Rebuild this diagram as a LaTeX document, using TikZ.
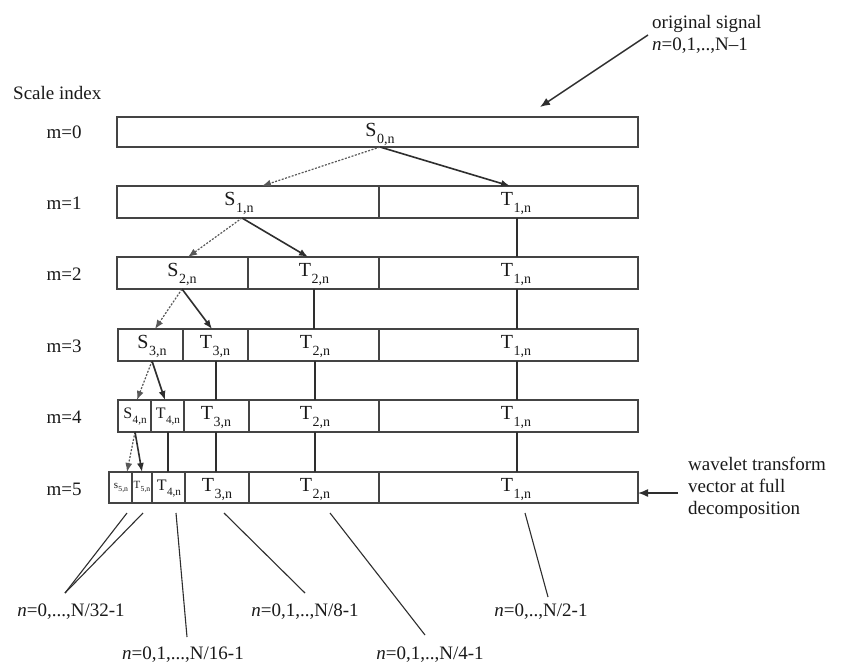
\documentclass[tikz,border=0pt]{standalone}
\usepackage{fontspec}
\setmainfont{Liberation Serif}
\usetikzlibrary{arrows.meta}
\definecolor{ink}{HTML}{1A1A1A}
\definecolor{linec}{HTML}{2E2E2E}
\definecolor{boxc}{HTML}{444444}
\newcommand{\lab}[2]{#1\kern0.5pt\raisebox{-7pt}{\fontsize{14}{14}\selectfont #2}}
\newcommand{\cellat}[5]{\node[cell,minimum width={(#3-#2)*1pt},minimum height={(#5-#4)*1pt}] (#1) at ({(#2+#3)/2},{(#4+#5)/2}) {};}
\begin{document}
\begin{tikzpicture}[x=1pt,y=-1pt,
  cell/.style={draw=boxc,line width=1.4pt,fill=white,inner sep=0pt,outer sep=0pt,rectangle},
  lbl/.style={anchor=base,inner sep=0pt,text=ink,font=\fontsize{20}{24}\selectfont},
  txt/.style={inner sep=0pt,text=ink,font=\fontsize{19}{22}\selectfont},
  rowlbl/.style={anchor=base,inner sep=0pt,text=ink,font=\fontsize{19}{22}\selectfont},
  solidarr/.style={draw=linec,line width=1.6pt,-{Latex[length=9pt,width=7pt]}},
  dotarr/.style={draw=linec!80,line width=1.2pt,dash pattern=on 2pt off 1.5pt,-{Latex[length=9pt,width=7pt]}},
  vline/.style={draw=linec,line width=1.5pt},
  leader/.style={draw=linec,line width=1.1pt},
  callout/.style={draw=linec,line width=1.4pt,-{Latex[length=10pt,width=8pt]}}
]
\useasboundingbox (0,0) rectangle (845,666);
\fill[white] (0,0) rectangle (845,666);

% ---- cells
\cellat{c00}{117}{638}{117}{147}
\cellat{c10}{117}{379}{186}{218}
\cellat{c11}{379}{638}{186}{218}
\cellat{c20}{117}{248}{257}{289}
\cellat{c21}{248}{379}{257}{289}
\cellat{c22}{379}{638}{257}{289}
\cellat{c30}{118}{183}{329}{361}
\cellat{c31}{183}{248}{329}{361}
\cellat{c32}{248}{379}{329}{361}
\cellat{c33}{379}{638}{329}{361}
\cellat{c40}{118}{151}{400}{432}
\cellat{c41}{151}{184}{400}{432}
\cellat{c42}{184}{249}{400}{432}
\cellat{c43}{249}{379}{400}{432}
\cellat{c44}{379}{638}{400}{432}
\cellat{c50}{109}{132}{472}{503}
\cellat{c51}{132}{152}{472}{503}
\cellat{c52}{152}{185}{472}{503}
\cellat{c53}{185}{249}{472}{503}
\cellat{c54}{249}{379}{472}{503}
\cellat{c55}{379}{638}{472}{503}

% ---- cell labels
\node[lbl] (l00) at (380,136) {\lab{S}{0,n}};
\node[lbl] (l10) at (239,205) {\lab{S}{1,n}};
\node[lbl] (l11) at (516,205) {\lab{T}{1,n}};
\node[lbl] (l20) at (182,276) {\lab{S}{2,n}};
\node[lbl] (l21) at (314,276) {\lab{T}{2,n}};
\node[lbl] (l22) at (516,276) {\lab{T}{1,n}};
\node[lbl] (l30) at (152,348) {\lab{S}{3,n}};
\node[lbl] (l31) at (215,348) {\lab{T}{3,n}};
\node[lbl] (l32) at (315,348) {\lab{T}{2,n}};
\node[lbl] (l33) at (516,348) {\lab{T}{1,n}};
\node[lbl,scale=0.8] (l40) at (135,418) {\lab{S}{4,n}};
\node[lbl,scale=0.8] (l41) at (168,418) {\lab{T}{4,n}};
\node[lbl] (l42) at (216,419) {\lab{T}{3,n}};
\node[lbl] (l43) at (315,419) {\lab{T}{2,n}};
\node[lbl] (l44) at (516,419) {\lab{T}{1,n}};
\node[lbl,scale=0.55] (l50) at (121,488) {\lab{s}{5,n}};
\node[lbl,scale=0.55] (l51) at (142,488) {\lab{T}{5,n}};
\node[lbl,scale=0.8] (l52) at (169,490) {\lab{T}{4,n}};
\node[lbl] (l53) at (217,491) {\lab{T}{3,n}};
\node[lbl] (l54) at (315,491) {\lab{T}{2,n}};
\node[lbl] (l55) at (516,491) {\lab{T}{1,n}};

% ---- row labels
\node[txt,anchor=base west] (scale) at (13,100) {Scale index};
\node[rowlbl] (m0) at (64,139) {m=0};
\node[rowlbl] (m1) at (64,209) {m=1};
\node[rowlbl] (m2) at (64,280) {m=2};
\node[rowlbl] (m3) at (64,352) {m=3};
\node[rowlbl] (m4) at (64,423) {m=4};
\node[rowlbl] (m5) at (64,495) {m=5};

% ---- decomposition arrows
\coordinate (a10) at (262,186); \coordinate (a11) at (510,186);
\coordinate (a20) at (188,257); \coordinate (a21) at (308,257);
\coordinate (a30) at (155,329); \coordinate (a31) at (212,329);
\coordinate (a40) at (137,400); \coordinate (a41) at (165,400);
\coordinate (a50) at (127,472); \coordinate (a51) at (142,472);
\coordinate (src1) at (242,218);
\draw[dotarr]   (l00 |- c00.south) -- (a10);
\draw[solidarr] (l00 |- c00.south) -- (a11);
\draw[dotarr]   (src1) -- (a20);
\draw[solidarr] (src1) -- (a21);
\draw[dotarr]   (l20 |- c20.south) -- (a30);
\draw[solidarr] (l20 |- c20.south) -- (a31);
\draw[dotarr]   (l30 |- c30.south) -- (a40);
\draw[solidarr] (l30 |- c30.south) -- (a41);
\draw[dotarr]   (l40 |- c40.south) -- (a50);
\draw[solidarr] (l40 |- c40.south) -- (a51);

% ---- vertical carry lines
\coordinate (t1x) at (517,0);
\draw[vline] (t1x |- c11.south) -- (t1x |- c22.north);
\draw[vline] (t1x |- c22.south) -- (t1x |- c33.north);
\draw[vline] (t1x |- c33.south) -- (t1x |- c44.north);
\draw[vline] (t1x |- c44.south) -- (t1x |- c55.north);
\draw[vline] (l21 |- c21.south) -- (l21 |- c32.north);
\draw[vline] (l32 |- c32.south) -- (l32 |- c43.north);
\draw[vline] (l43 |- c43.south) -- (l43 |- c54.north);
\draw[vline] (l42 |- c31.south) -- (l42 |- c42.north);
\draw[vline] (l42 |- c42.south) -- (l42 |- c53.north);
\draw[vline] (l41 |- c41.south) -- (l41 |- c52.north);

% ---- callouts
\node[txt,anchor=base west] (orig1) at (652,29) {original signal};
\node[txt,anchor=base west] (orig2) at (652,51) {\textit{n}=0,1,..,N–1};
\coordinate (o0) at (648,35); \coordinate (o1) at (540,107);
\draw[callout] (o0) -- (o1);
\node[txt,anchor=base west] (w1) at (688,470) {wavelet transform};
\node[txt,anchor=base west] (w2) at (688,492) {vector at full};
\node[txt,anchor=base west] (w3) at (688,514) {decomposition};
\coordinate (w0) at (678,493);
\draw[callout] (w0) -- (c55.east |- w0);

% ---- bottom index labels
\node[txt,anchor=base] (b32) at (71,616) {\textit{n}=0,...,N/32-1};
\node[txt,anchor=base] (b16) at (183,659) {\textit{n}=0,1,...,N/16-1};
\node[txt,anchor=base] (b8)  at (305,616) {\textit{n}=0,1,..,N/8-1};
\node[txt,anchor=base] (b4)  at (430,659) {\textit{n}=0,1,..,N/4-1};
\node[txt,anchor=base] (b2)  at (541,616) {\textit{n}=0,..,N/2-1};
\coordinate (e32) at (65,593); \coordinate (e16) at (187,637);
\coordinate (e8) at (305,593); \coordinate (e4) at (425,635);
\coordinate (e2) at (548,597);
\coordinate (s32a) at (127,513); \coordinate (s32b) at (143,513);
\coordinate (s16) at (176,513); \coordinate (s8) at (224,513);
\coordinate (s4) at (330,513); \coordinate (s2) at (525,513);
\draw[leader] (s32a) -- (e32);
\draw[leader] (s32b) -- (e32);
\draw[leader] (s16) -- (e16);
\draw[leader] (s8) -- (e8);
\draw[leader] (s4) -- (e4);
\draw[leader] (s2) -- (e2);
\end{tikzpicture}
\end{document}
